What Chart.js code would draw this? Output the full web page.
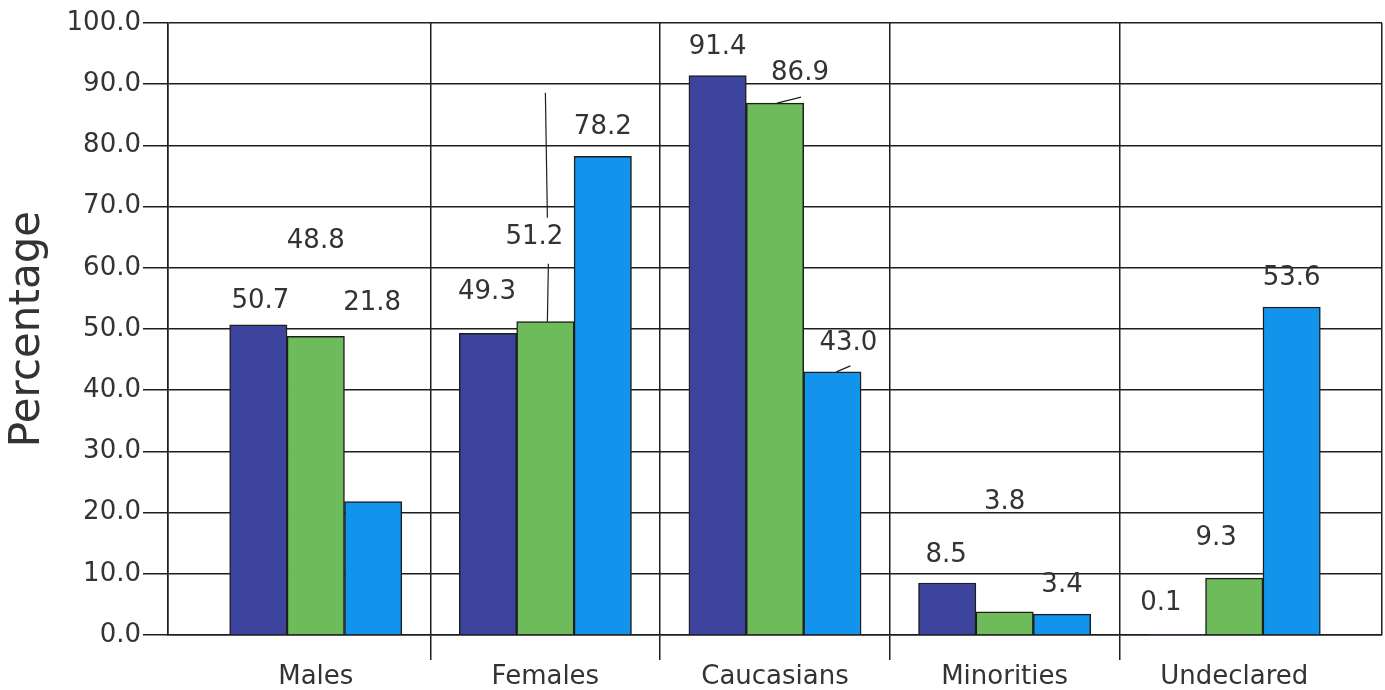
<!DOCTYPE html>
<html>
<head>
<meta charset="utf-8">
<script src="https://cdn.jsdelivr.net/npm/chart.js@4.4.1/dist/chart.umd.min.js"></script>
<style>
  html, body { margin: 0; padding: 0; background: #fff; }
  #wrap { width: 1385px; height: 690px; }
</style>
</head>
<body>
<div id="wrap"><canvas id="myChart" width="1385" height="690"></canvas></div>
<script>
"use strict";

const categories = ["Males", "Females", "Caucasians", "Minorities", "Undeclared"];
const series1 = [50.7, 49.3, 91.4, 8.5, 0.1];
const series2 = [48.8, 51.2, 86.9, 3.8, 9.3];
const series3 = [21.8, 78.2, 43.0, 3.4, 53.6];
const yTicks = [0, 10, 20, 30, 40, 50, 60, 70, 80, 90, 100];

// where each value label sits, px from the top centre of its bar
const labelOffsets = [
  [[2, -23], [-1, -41], [0, -28], [-1, -28], [-16, -31]],
  [[0, -95], [-11, -84], [25, -30], [0, -109], [-18, -40]],
  [[-1, -198], [0, -29], [16, -29], [0, -29], [0, -29]],
];
// leader lines [dataset, index, [x1, y1, x2, y2]...] relative to bar top
const leaders = [
  [1, 1, [[2, 0, 3, -58], [2, -104, 0, -229]]],
  [1, 2, [[2, 0, 26, -6]]],
  [2, 2, [[4, 0, 18, -6]]],
];

const textColor = "#333333";
const lineColor = "#1e1e1e";
const font = "DejaVu Sans";
const edge = 0.6435;

function toPoints(values) {
  return values.map((v, i) => ({ x: i, y: v }));
}

const valueLabels = {
  id: "valueLabels",
  afterDatasetsDraw(chart) {
    const ctx = chart.ctx;
    ctx.save();
    ctx.strokeStyle = lineColor;
    ctx.lineWidth = 1.2;
    leaders.forEach(([d, i, segs]) => {
      const bar = chart.getDatasetMeta(d).data[i];
      segs.forEach((s) => {
        ctx.beginPath();
        ctx.moveTo(bar.x + s[0], bar.y + s[1]);
        ctx.lineTo(bar.x + s[2], bar.y + s[3]);
        ctx.stroke();
      });
    });
    ctx.fillStyle = textColor;
    ctx.font = "26px '" + font + "'";
    ctx.textAlign = "center";
    ctx.textBaseline = "middle";
    chart.data.datasets.forEach((ds, d) => {
      chart.getDatasetMeta(d).data.forEach((bar, i) => {
        const off = labelOffsets[d][i];
        ctx.fillText(ds.data[i].y.toFixed(1), bar.x + off[0], bar.y + off[1]);
      });
    });
    ctx.restore();
  },
};

const config = {
  type: "bar",
  data: {
    datasets: [
      {
        label: "Series 1",
        data: toPoints(series1),
        backgroundColor: "rgb(61, 68, 158)",
        borderColor: lineColor,
        borderWidth: 1.5,
      },
      {
        label: "Series 2",
        data: toPoints(series2),
        backgroundColor: "rgb(110, 187, 92)",
        borderColor: lineColor,
        borderWidth: 1.5,
      },
      {
        label: "Series 3",
        data: toPoints(series3),
        backgroundColor: "rgb(18, 148, 236)",
        borderColor: lineColor,
        borderWidth: 1.5,
      },
    ],
  },
  options: {
    responsive: false,
    animation: false,
    layout: { padding: { top: 23, right: 3, left: 0, bottom: 0 } },
    barThickness: 57.4,
    plugins: {
      legend: { display: false },
      tooltip: { enabled: false },
    },
    scales: {
      x: {
        type: "linear",
        offset: false,
        min: -edge,
        max: categories.length - 1 + edge,
        afterBuildTicks: (scale) => {
          const t = [{ value: -edge }];
          for (let i = 0; i < categories.length; i++) {
            t.push({ value: i });
            if (i < categories.length - 1) t.push({ value: i + 0.5 });
          }
          t.push({ value: categories.length - 1 + edge });
          scale.ticks = t;
        },
        afterFit: (scale) => {
          scale.height = 55;
        },
        ticks: {
          autoSkip: false,
          maxRotation: 0,
          padding: 2,
          color: textColor,
          font: { family: font, size: 26 },
          callback: (v) => (Number.isInteger(v) ? categories[v] : ""),
        },
        grid: {
          offset: false,
          lineWidth: 1.5,
          tickLength: 25,
          color: (c) => (c.tick && Number.isInteger(c.tick.value) ? "rgba(0,0,0,0)" : lineColor),
          tickColor: (c) =>
            c.tick && !Number.isInteger(c.tick.value) && Math.abs(c.tick.value * 2 - Math.round(c.tick.value * 2)) < 1e-6
              ? lineColor
              : "rgba(0,0,0,0)",
        },
        border: { color: lineColor, width: 1.5 },
      },
      y: {
        min: 0,
        max: 100,
        afterBuildTicks: (scale) => {
          scale.ticks = yTicks.map((v) => ({ value: v }));
        },
        afterFit: (scale) => {
          scale.width = 168;
        },
        ticks: {
          padding: 2,
          color: textColor,
          font: { family: font, size: 26 },
          callback: (v) => Number(v).toFixed(1),
        },
        grid: {
          lineWidth: 1.5,
          tickLength: 25,
          color: lineColor,
          tickColor: lineColor,
        },
        border: { color: lineColor, width: 1.5 },
        title: {
          display: true,
          text: "Percentage",
          color: textColor,
          font: { family: font, size: 42, lineHeight: 1 },
          padding: { top: 7, bottom: 0 },
        },
      },
    },
  },
  plugins: [valueLabels],
};

let chart = new Chart(document.getElementById("myChart"), config);
</script>
</body>
</html>
